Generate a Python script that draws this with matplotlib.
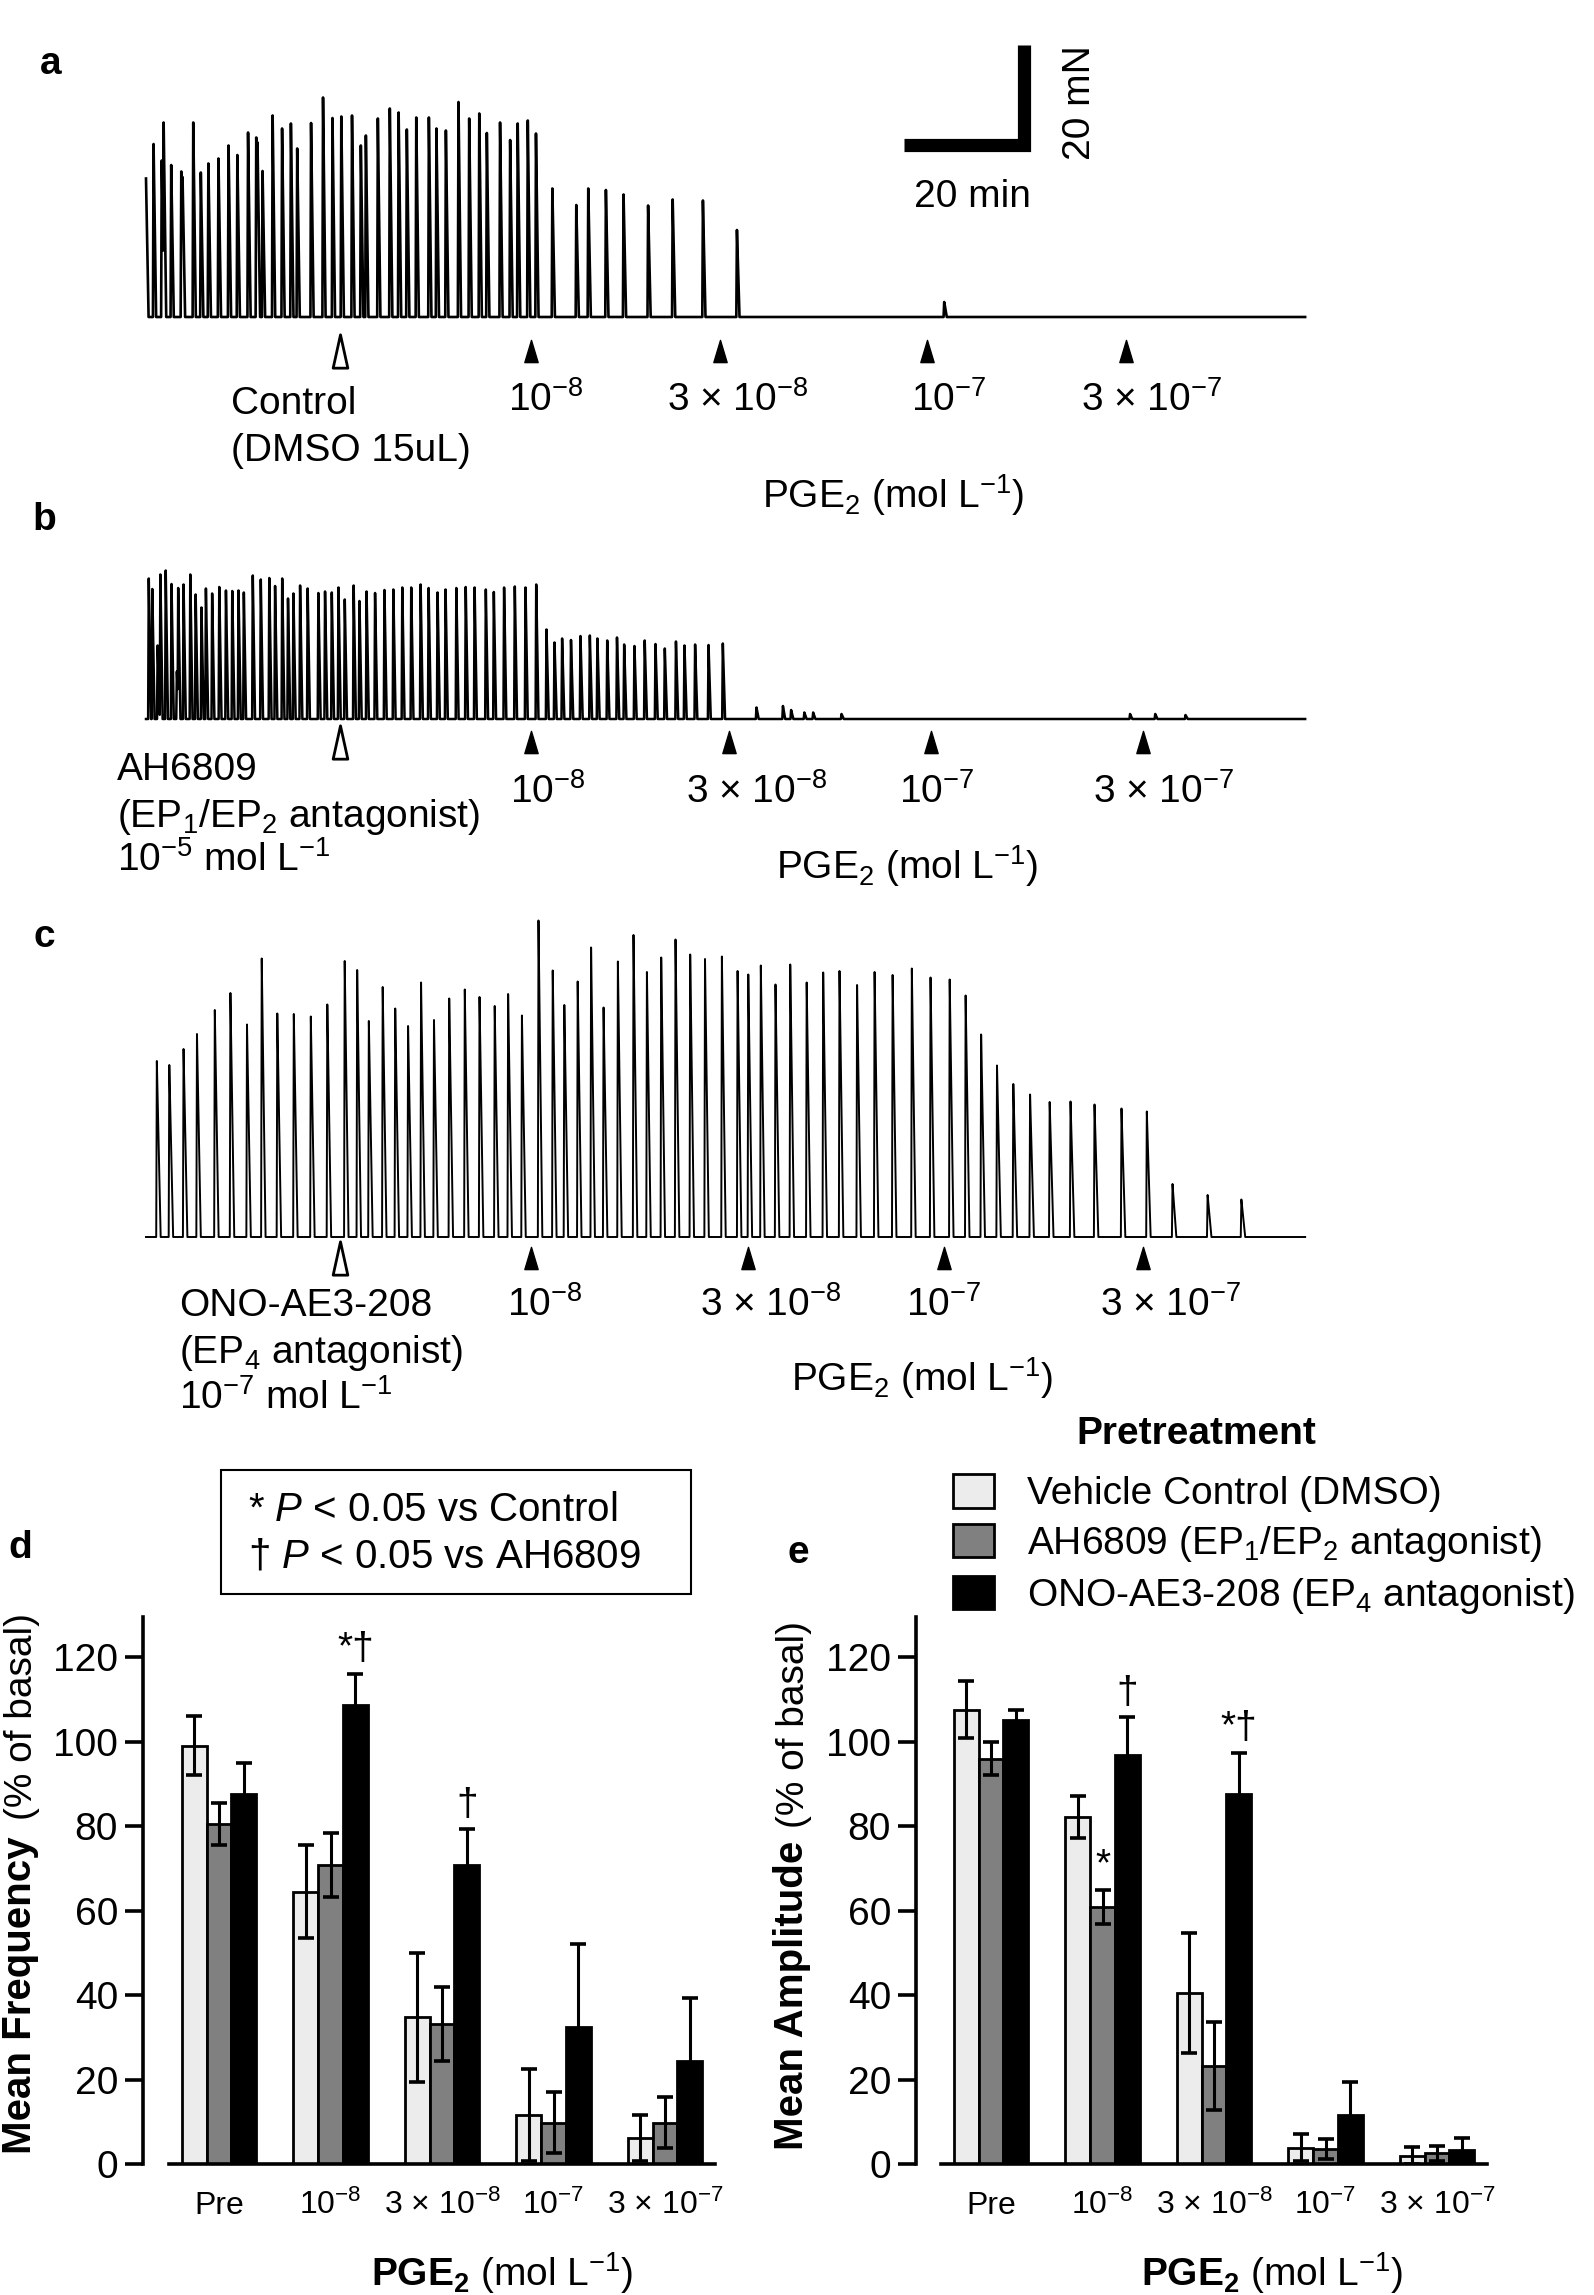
import numpy as np
import matplotlib
matplotlib.use('Agg')
import matplotlib.pyplot as plt
from matplotlib.patches import Rectangle
from matplotlib.path import Path

plt.rcParams['font.family'] = ['Liberation Sans', 'DejaVu Sans']
plt.rcParams['mathtext.fontset'] = 'custom'
plt.rcParams['mathtext.rm'] = 'Liberation Sans'
plt.rcParams['mathtext.it'] = 'Liberation Sans:italic'
plt.rcParams['mathtext.bf'] = 'Liberation Sans:bold'

# ---------------- data ----------------
# isometric tension traces: contraction times (min) and peak amplitudes (mN)
a_times = [0.0, 1.2, 2.5, 2.8, 4.0, 5.6, 5.8, 7.5, 8.7, 9.9, 11.5, 13.1, 14.5, 16.2, 17.5, 17.7, 18.5,
           20.1, 21.6, 23.0, 24.0, 26.2, 28.1, 29.6, 31.0, 32.7, 34.1, 34.9, 36.8, 38.7, 40.1, 41.4,
           42.9, 44.9, 46.1, 47.6, 49.6, 51.3, 52.9, 54.1, 56.2, 57.8, 59.0, 60.6, 61.9,
           64.5, 68.3, 70.2, 73.0, 75.8, 79.7, 83.6, 88.4, 93.8, 126.7]
a_amps = [27.7, 34.6, 31.3, 38.9, 30.4, 29.1, 28.0, 38.9, 28.9, 30.7, 31.7, 34.3, 32.4, 36.9, 35.9, 34.9, 29.2,
          40.3, 37.7, 38.7, 33.7, 38.8, 43.9, 39.8, 40.1, 40.3, 34.3, 36.3, 39.7, 41.7, 40.9, 37.5,
          39.9, 39.9, 37.7, 37.3, 43.0, 39.7, 40.7, 36.8, 38.9, 35.4, 38.7, 39.3, 36.7,
          25.7, 22.4, 25.7, 25.4, 24.5, 22.3, 23.5, 23.3, 17.4, 3.0]
a_doses = [30.8, 61.1, 91.1, 124.0, 155.6]

b_times = [0.44, 1.0, 1.85, 2.28, 3.13, 4.05, 4.9, 5.11, 5.96, 7.03, 7.88, 8.8, 9.51, 10.5, 11.63,
           12.69, 13.69, 14.68, 15.53, 16.95, 18.22, 19.57, 20.49, 21.62, 22.54, 23.4, 24.46, 25.66,
           27.36, 28.42, 29.49, 30.55, 31.55, 32.96, 33.88, 35.01, 36.36, 37.85, 39.26, 40.68, 42.1,
           43.59, 44.86, 46.28, 47.55, 49.26, 50.75, 52.16, 53.94, 55.21, 56.84, 58.54, 60.24, 61.94,
           63.57, 64.84, 66.05, 67.46, 68.96, 70.45, 71.65, 73.21, 74.76, 75.9, 77.53, 79.16, 80.87,
           82.35, 84.12, 85.47, 87.16, 89.29, 91.56,
           96.9, 101.1, 102.4, 104.5, 105.9, 110.4, 156.2, 160.2, 165.0]
b_amps = [28.1, 26.0, 14.7, 28.9, 29.7, 27.0, 9.5, 26.2, 26.9, 28.9, 24.9, 22.3, 26.1, 25.1, 26.4,
          25.7, 25.6, 25.7, 25.3, 28.7, 27.9, 28.2, 26.6, 28.1, 24.1, 25.1, 26.7, 26.1,
          25.2, 25.5, 25.3, 26.3, 23.9, 26.7, 23.6, 25.5, 25.2, 25.8, 25.9, 26.3, 26.3,
          26.9, 26.2, 25.3, 25.9, 26.2, 26.4, 26.3, 25.9, 25.4, 26.3, 26.5, 26.3, 26.9,
          17.9, 15.3, 16.1, 15.8, 16.6, 16.7, 16.1, 15.7, 16.3, 14.9, 14.6, 15.7, 15.0,
          14.1, 15.5, 14.7, 14.9, 14.8, 15.1,
          2.3, 2.6, 1.8, 1.3, 1.3, 1.0, 1.0, 1.0, 0.8]
b_doses = [30.8, 61.1, 92.5, 124.6, 158.3]

c_times = [1.72, 3.70, 5.96, 8.09, 10.92, 13.40, 16.03, 18.37, 20.84, 23.46, 26.16, 28.78, 31.54,
           33.52, 35.37, 37.57, 39.56, 41.60, 43.66, 45.71, 48.13, 50.60, 52.94, 55.35, 57.48, 59.67,
           62.30, 64.56, 66.40, 68.52, 70.65, 72.63, 74.90, 77.38, 79.51, 81.78, 84.05, 86.38, 88.73,
           91.41, 93.90, 95.60, 97.59, 99.92, 102.26, 104.87, 107.49, 110.08, 112.87, 115.65, 118.51,
           121.56, 124.53, 127.57, 130.10, 132.56, 135.08, 137.67, 140.33, 143.44, 146.75, 150.56,
           154.84, 158.86, 162.94, 168.51, 173.87]
c_amps = [35.2, 34.4, 37.6, 40.6, 45.4, 48.8, 42.5, 55.7, 44.7, 44.6, 44.1, 46.5, 55.2,
          53.4, 43.2, 50.0, 45.7, 42.2, 50.9, 43.4, 47.7, 49.5, 48.0, 46.2, 48.6, 44.3,
          63.3, 53.3, 46.4, 51.1, 57.9, 45.9, 55.1, 60.4, 53.0, 55.9, 59.5, 56.5, 55.6,
          56.1, 53.2, 52.5, 54.3, 50.5, 54.5, 50.9, 52.9, 53.2, 50.4, 53.0, 52.4,
          53.7, 51.9, 51.5, 48.3, 40.5, 34.3, 30.6, 28.5, 27.0, 27.1, 26.5,
          25.7, 25.1, 10.6, 8.4, 7.5]
c_doses = [30.8, 61.1, 95.6, 126.7, 158.3]

scale_min = 20
scale_mn = 20

# summary data (% of basal), mean and SEM
groups = ['Pre', '10$^{-8}$', '3 × 10$^{-8}$', '10$^{-7}$', '3 × 10$^{-7}$']
series = ['Vehicle Control (DMSO)', 'AH6809 (EP$_1$/EP$_2$ antagonist)', 'ONO-AE3-208 (EP$_4$ antagonist)']
freq_ctrl = [99.0, 64.5, 34.7, 11.6, 6.1]
freq_ctrl_err = [7.0, 11.0, 15.3, 11.0, 5.5]
freq_ah = [80.5, 70.8, 33.1, 9.8, 9.8]
freq_ah_err = [5.0, 7.5, 8.7, 7.2, 6.0]
freq_ono = [87.5, 108.6, 70.8, 32.5, 24.4]
freq_ono_err = [7.5, 7.5, 8.5, 19.5, 15.0]
amp_ctrl = [107.6, 82.2, 40.5, 3.9, 2.0]
amp_ctrl_err = [6.8, 5.0, 14.2, 3.2, 2.0]
amp_ah = [96.0, 60.9, 23.2, 3.6, 2.5]
amp_ah_err = [4.0, 4.0, 10.4, 2.4, 1.8]
amp_ono = [105.1, 96.8, 87.6, 11.7, 3.2]
amp_ono_err = [2.4, 9.0, 9.8, 7.8, 2.9]
# significance marks: (group, series index, text)
freq_marks = [(1, 2, '*†'), (2, 2, '†')]
amp_marks = [(1, 1, '*'), (1, 2, '†'), (2, 2, '*†')]

# ---------------- layout ----------------
W, H = 1594, 2295
fig = plt.figure(figsize=(W / 100, H / 100), dpi=100)
FS = 28


def fx(px):
    return px / W


def fy(py):
    return 1 - py / H


def add_ax(left, top, right, bottom):
    return fig.add_axes([fx(left), fy(bottom), (right - left) / W, (bottom - top) / H])


def txt(x, y, s, **kw):
    kw.setdefault('fontsize', FS)
    kw.setdefault('va', 'center')
    fig.text(fx(x), fy(y), s, **kw)


# pixel scale of the traces
PX_MIN = 6.3
PX_MN = 5.0
T0_PX = 146
TR_LEFT, TR_RIGHT = 140, 1312


def waveform(t, times, amps, rise, fall):
    y = np.zeros_like(t)
    for t0, a in zip(times, amps):
        d = t - t0
        s = np.where(d < 0, 1 + d / rise, 1 - d / fall)
        y = np.maximum(y, a * np.clip(s, 0, 1))
    return y


tri_filled = Path([(-0.3, -0.5), (0.3, -0.5), (0, 0.5), (-0.3, -0.5)], closed=True)
tri_open = Path([(-0.22, -0.5), (0.22, -0.5), (0, 0.5), (-0.22, -0.5)], closed=True)


def trace_panel(top, bottom, base, times, amps, doses, arrow_y, t_end, fall, lw):
    ax = add_ax(TR_LEFT, top, TR_RIGHT, bottom)
    ax.set_xlim((TR_LEFT - T0_PX) / PX_MIN, (TR_RIGHT - T0_PX) / PX_MIN)
    ax.set_ylim(-(bottom - base) / PX_MN, (base - top) / PX_MN)
    t = np.arange(0, t_end, 0.01)
    ax.plot(t, waveform(t, times, amps, 0.1, fall), color='black', lw=lw)
    ax.plot(doses[:1], [arrow_y], marker=tri_open, ms=24, mfc='white', mec='black', mew=2,
            ls='none', clip_on=False)
    ax.plot(doses[1:], [arrow_y] * (len(doses) - 1), marker=tri_filled, ms=16, color='black',
            ls='none', clip_on=False)
    ax.axis('off')
    return ax


ax_a = trace_panel(40, 375, 317, a_times, a_amps, a_doses, -6.8, 184, 0.4, 1.9)
ax_b = trace_panel(540, 760, 719, b_times, b_amps, b_doses, -4.6, 184, 0.35, 1.8)
ax_c = trace_panel(905, 1275, 1237, c_times, c_amps, c_doses, -4.2, 184, 0.6, 1.4)

# scale bar
xc, yc = (1024 - T0_PX) / PX_MIN, (317 - 145) / PX_MN
ax_a.plot([xc - scale_min + 1, xc, xc], [yc, yc, yc + scale_mn], color='black', lw=9.5,
          solid_joinstyle='miter', solid_capstyle='butt', clip_on=False)
txt(972, 197, f'{scale_min} min', ha='center')
txt(1080, 103, f'{scale_mn} mN', ha='center', rotation=90)

# trace labels
txt(51, 64, 'a', ha='center', fontweight='bold')
txt(231, 404, 'Control')
txt(231, 451, '(DMSO 15uL)')
for x, s in zip([546, 738, 949, 1152], groups[1:]):
    txt(x, 400, s, ha='center')
txt(893, 495, 'PGE$_2$ (mol L$^{-1}$)', ha='center')

txt(44, 520, 'b', ha='center', fontweight='bold')
txt(117, 770, 'AH6809')
txt(117, 817, '(EP$_1$/EP$_2$ antagonist)')
txt(117, 860, '10$^{-5}$ mol L$^{-1}$')
for x, s in zip([548, 757, 937, 1164], groups[1:]):
    txt(x, 792, s, ha='center')
txt(907, 866, 'PGE$_2$ (mol L$^{-1}$)', ha='center')

txt(44, 937, 'c', ha='center', fontweight='bold')
txt(179, 1306, 'ONO-AE3-208')
txt(179, 1353, '(EP$_4$ antagonist)')
txt(179, 1398, '10$^{-7}$ mol L$^{-1}$')
for x, s in zip([545, 771, 944, 1171], groups[1:]):
    txt(x, 1305, s, ha='center')
txt(922, 1378, 'PGE$_2$ (mol L$^{-1}$)', ha='center')

# ---------------- bar panels ----------------
GP = 111.5
BW = 0.224
colors = ['#ececec', '#808080', '#000000']


def bar_panel(y_left, center0, vals, errs, marks, ylab, xlab_x, letter_xy):
    x_right = center0 + 4.45 * GP
    ax = add_ax(y_left, 1617, x_right, 2164)
    x = np.arange(len(groups))
    ax.set_xlim((y_left - center0) / GP, 4.45)
    ax.set_ylim(0, 129.5)
    bars = []
    for k in range(3):
        b = ax.bar(x + (k - 1) * BW, vals[k], BW, color=colors[k], edgecolor='black',
                   linewidth=2, label=series[k], zorder=2)
        bars.append(b)
    for k in range(3):
        ax.errorbar(x + (k - 1) * BW, vals[k], yerr=errs[k], fmt='none', ecolor='black',
                    elinewidth=2.2, capsize=6, capthick=2.6, zorder=4)
    for g, k, s in marks:
        ax.text(g + (k - 1) * BW, vals[k][g] + errs[k][g] + 1.5, s, ha='center', va='bottom',
                fontsize=FS)
    for side in ['top', 'right']:
        ax.spines[side].set_visible(False)
    ax.spines['left'].set_linewidth(2.6)
    ax.spines['bottom'].set_linewidth(2.6)
    ax.spines['bottom'].set_bounds(-0.45, 4.45)
    ax.set_yticks(range(0, 121, 20))
    ax.tick_params(axis='y', length=13, width=2.6, labelsize=FS, pad=5)
    ax.set_xticks([])
    for g, s in zip(x, groups):
        ax.text(g, -0.092, s, transform=ax.get_xaxis_transform(), ha='center', va='baseline',
                fontsize=23)
    txt(xlab_x, 2273, r'$\mathbf{PGE_2}$ (mol L$^{-1}$)', ha='center')
    txt(ylab[2], ylab[3], ylab[0], rotation=90, ha='center', fontweight='bold', fontsize=29)
    txt(ylab[2] + 2, ylab[4], '(% of basal)', rotation=90, ha='center')
    txt(letter_xy[0], letter_xy[1], letter_xy[2], ha='center', fontweight='bold')
    return ax, bars


ax_d, bars_d = bar_panel(143, 219, [freq_ctrl, freq_ah, freq_ono],
                         [freq_ctrl_err, freq_ah_err, freq_ono_err], freq_marks,
                         ('Mean Frequency', None, 20, 1995, 1716), 502, (20, 1548, 'd'))
ax_e, bars_e = bar_panel(916, 991, [amp_ctrl, amp_ah, amp_ono],
                         [amp_ctrl_err, amp_ah_err, amp_ono_err], amp_marks,
                         ('Mean Amplitude', None, 792, 1995, 1724), 1272, (798, 1553, 'e'))

# significance box
fig.add_artist(Rectangle((fx(221), fy(1594)), (691 - 221) / W, (1594 - 1470) / H, fill=False,
                         lw=1.5, edgecolor='black', transform=fig.transFigure))
txt(248, 1510, r'* $\mathit{P}$ < 0.05 vs Control', fontsize=29)
txt(248, 1557, r'† $\mathit{P}$ < 0.05 vs AH6809', fontsize=29)

# legend
txt(1196, 1434, 'Pretreatment', ha='center', fontweight='bold')
ax_e.legend(handles=bars_e, loc='upper left', bbox_to_anchor=(fx(953), fy(1474)),
            bbox_transform=fig.transFigure, frameon=False, fontsize=FS, handlelength=1.05,
            handleheight=0.95, handletextpad=0.85, labelspacing=0.3, borderpad=0,
            borderaxespad=0)

fig.savefig('out.png', dpi=100)
